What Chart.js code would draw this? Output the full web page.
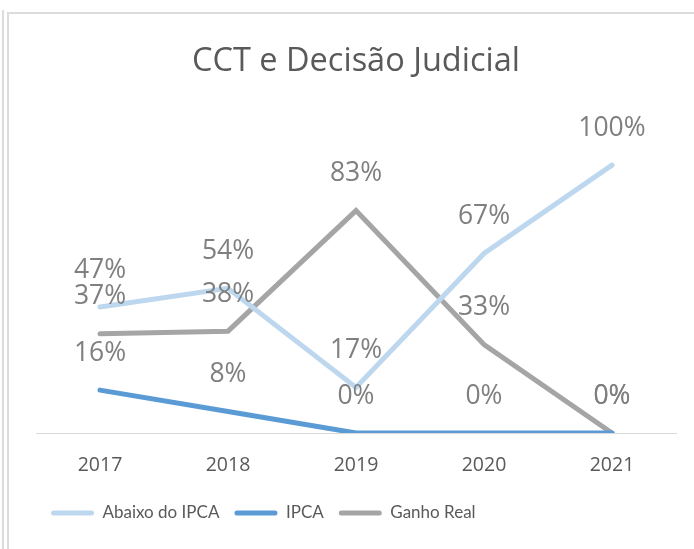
<!DOCTYPE html>
<html lang="pt">
<head>
<meta charset="utf-8">
<title>CCT e Decisão Judicial</title>
<script src="https://cdn.jsdelivr.net/npm/chart.js@4/dist/chart.umd.min.js"></script>
<style>
  html, body { margin: 0; padding: 0; background: #ffffff; }
  #wrap { position: relative; width: 694px; height: 549px; overflow: hidden; }
  #wrap canvas { position: absolute; left: 0; top: 0; }
  .rule-left { position: absolute; left: 2px; top: 10px; width: 2px; bottom: 0; background: #dcdcdc; }
  .frame { position: absolute; left: 7px; top: 12px; right: -4px; bottom: -4px;
           border-left: 2px solid #dcdcdc; border-top: 2px solid #dcdcdc; }
</style>
</head>
<body>
<div id="wrap">
  <canvas id="chart" width="694" height="549"></canvas>
  <div class="rule-left"></div>
  <div class="frame"></div>
</div>
<script>
// Anos do eixo horizontal
const years = ['2017', '2018', '2019', '2020', '2021'];

// Percentual de instrumentos por resultado de reajuste
const abaixoIpca = [47, 54, 17, 67, 100];
const ipca = [16, 8, 0, 0, 0];
const ganhoReal = [37, 38, 83, 33, 0];

const seriesNames = ['Abaixo do IPCA', 'IPCA', 'Ganho Real'];
const seriesColors = ['#bdd7ee', '#5b9bd5', '#a5a5a5'];

const FONT = "'Open Sans', 'Noto Sans', sans-serif";
const LEGEND_FONT = "Lato, 'Open Sans', sans-serif";

// Rótulos de valor desenhados acima de cada ponto
const pointLabels = {
  id: 'pointLabels',
  afterDatasetsDraw(chart) {
    const ctx = chart.ctx;
    ctx.save();
    ctx.font = "26.5px " + FONT;
    ctx.fillStyle = '#7f7f7f';
    ctx.textAlign = 'center';
    ctx.textBaseline = 'middle';
    chart.data.datasets.forEach((ds, i) => {
      const meta = chart.getDatasetMeta(i);
      meta.data.forEach((pt, j) => {
        ctx.fillText(ds.data[j] + '%', pt.x, pt.y - 37);
      });
    });
    ctx.restore();
  }
};

const makeSet = (label, data, color) => ({
  label,
  data,
  borderColor: color,
  backgroundColor: color,
  borderWidth: 5,
  pointRadius: 0,
  pointHoverRadius: 0,
  tension: 0,
  borderCapStyle: 'round',
  borderJoinStyle: 'miter'
});

new Chart(document.getElementById('chart'), {
  type: 'line',
  data: {
    labels: years,
    datasets: [
      makeSet(seriesNames[0], abaixoIpca, seriesColors[0]),
      makeSet(seriesNames[1], ipca, seriesColors[1]),
      makeSet(seriesNames[2], ganhoReal, seriesColors[2])
    ]
  },
  options: {
    responsive: false,
    animation: false,
    layout: { padding: { left: 36, right: 18, top: 0, bottom: 17.5 } },
    scales: {
      x: {
        offset: true,
        grid: { display: false, drawTicks: false },
        border: { display: true, color: '#d9d9d9', width: 1 },
        ticks: { color: '#595959', font: { family: FONT, size: 19.5 }, padding: 21 },
        afterFit(scale) { scale.height = 56.5; }
      },
      y: {
        display: false,
        min: 0,
        max: 120
      }
    },
    plugins: {
      title: {
        display: true,
        text: 'CCT e Decisão Judicial',
        color: '#595959',
        font: { family: FONT, size: 32.5, weight: 'normal' },
        padding: { top: 42, bottom: 30.5 }
      },
      legend: {
        position: 'bottom',
        align: 'start',
        labels: {
          color: '#595959',
          font: { family: LEGEND_FONT, size: 17 },
          boxWidth: 43,
          boxHeight: 5,
          useBorderRadius: true,
          borderRadius: 2.5,
          padding: 15,
          generateLabels(chart) {
            return Chart.defaults.plugins.legend.labels.generateLabels(chart).map(item => {
              item.lineWidth = 0;
              return item;
            });
          }
        }
      },
      tooltip: { enabled: false }
    }
  },
  plugins: [pointLabels]
});
</script>
</body>
</html>
